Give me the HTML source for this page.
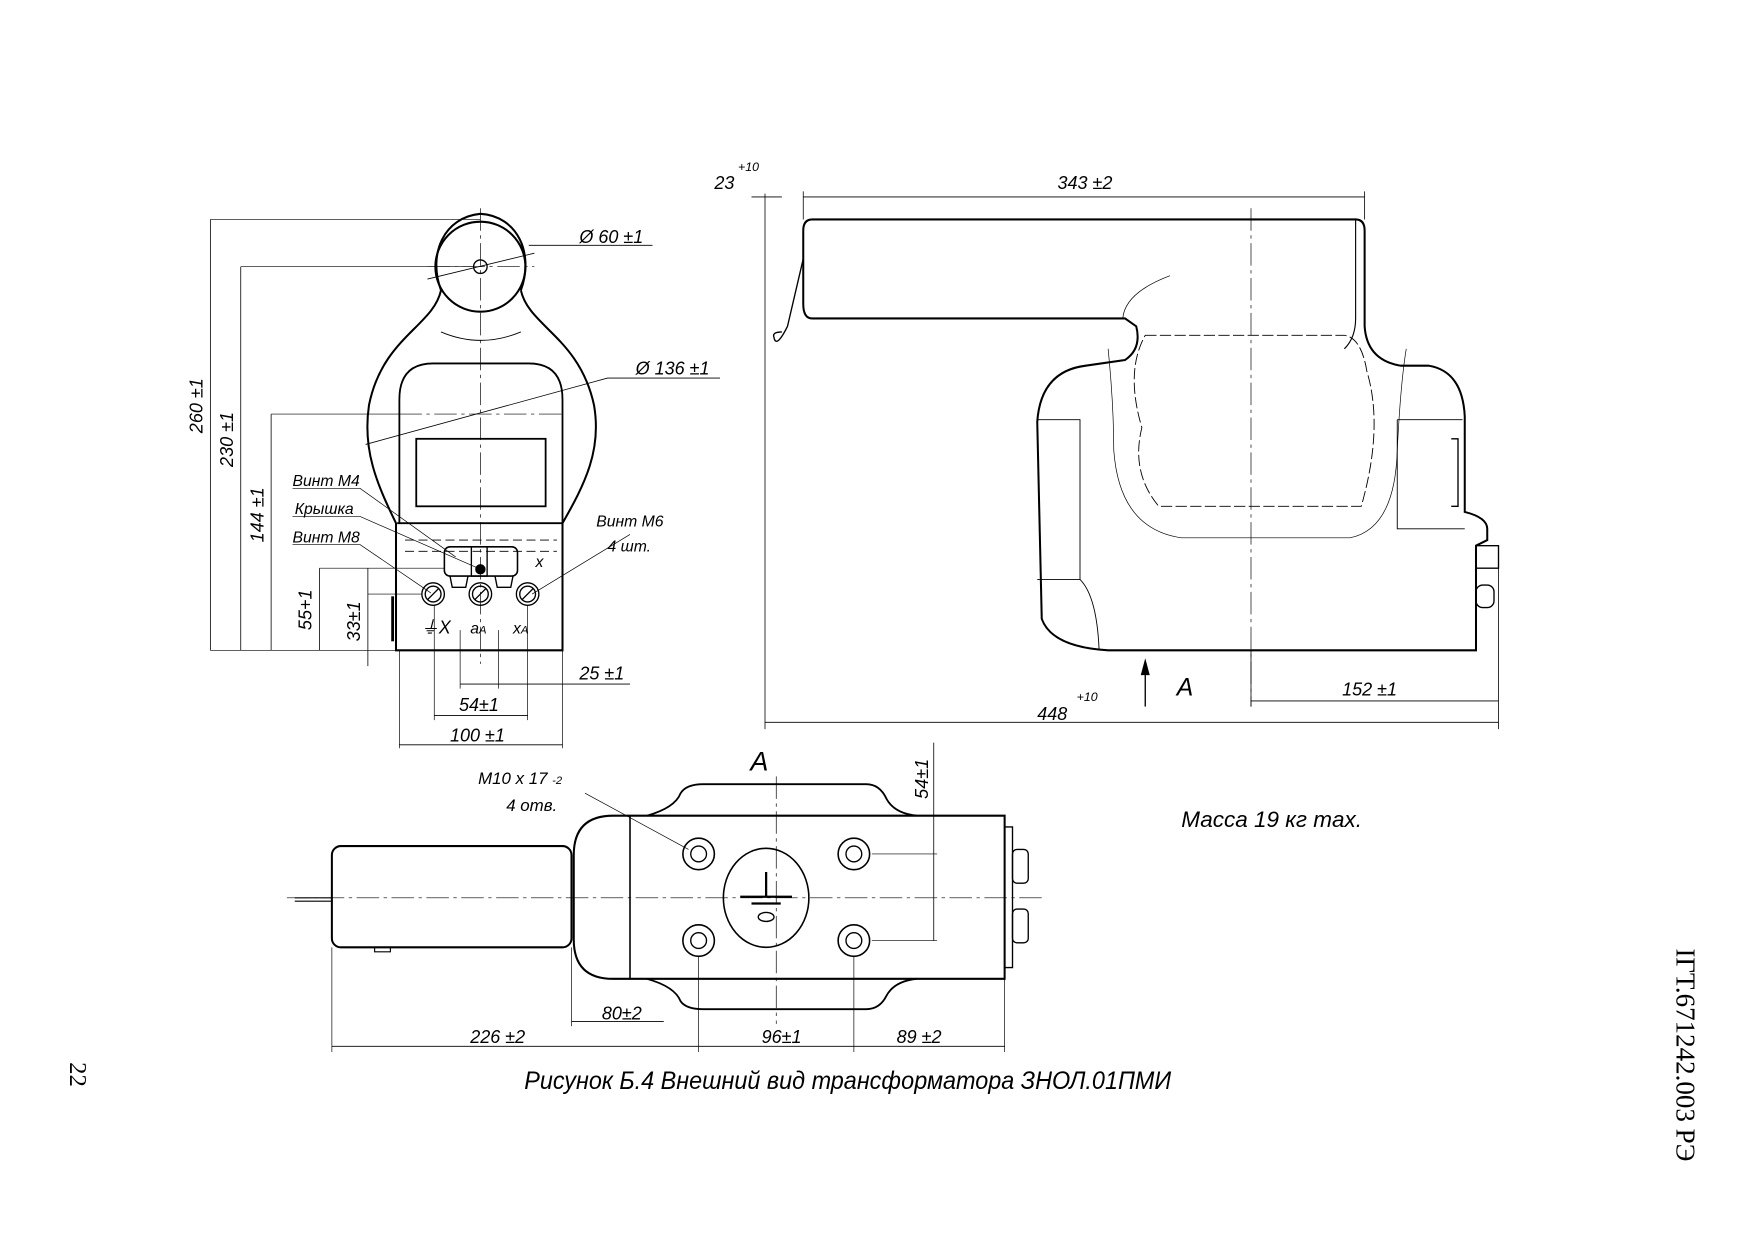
<!DOCTYPE html>
<html><head><meta charset="utf-8"><style>
html,body{margin:0;padding:0;background:#fff;}
svg{display:block}
text{font-family:"Liberation Sans",sans-serif;font-style:italic;fill:#000;}
</style></head><body>
<svg width="1755" height="1241" viewBox="0 0 1560 1103" xmlns="http://www.w3.org/2000/svg">
<g fill="none" stroke="#000" stroke-width="1.2">
<!-- ===== FRONT VIEW ===== -->
<circle cx="427" cy="237" r="40" stroke-width="1.8"/>
<circle cx="427" cy="237" r="6"/>
<path d="M392 258 C385 290 340 300 328 360 C322 400 335 430 352 465 L352 578 L500 578 L500 465 C520 430 535 400 528 360 C515 300 470 290 463 258" stroke-width="1.8"/>
<path d="M392 258 C380 225 395 193 427 190 C460 192 475 225 463 258" stroke-width="1.8"/>
<path d="M355 465 L355 355 Q355 323 385 323 L470 323 Q500 323 500 355 L500 465" stroke-width="1.6"/>
<rect x="370" y="390" width="115" height="60" stroke-width="1.6"/>
<path d="M392 295 Q427 310 463 295" stroke-width="0.8"/>
<path d="M353 465 L500 465" stroke-width="1.6"/>
<path d="M360 480 L495 480 M360 490 L495 490" stroke-dasharray="8 4" stroke-width="0.8"/>
<rect x="395" y="486" width="65" height="26" rx="5" stroke-width="1.4"/>
<rect x="419" y="486" width="14" height="26" stroke-width="1.2"/>
<circle cx="427" cy="506" r="4" fill="#000"/>
<path d="M400 512 L402 522 L414 522 L416 512 M440 512 L442 522 L454 522 L456 512" stroke-width="1.2"/>
<circle cx="385" cy="528" r="10"/><circle cx="385" cy="528" r="7"/>
<circle cx="427" cy="528" r="10"/><circle cx="427" cy="528" r="7"/>
<circle cx="469" cy="528" r="10"/><circle cx="469" cy="528" r="7"/>
<path d="M380 533 L390 523 M422 533 L432 523 M464 533 L474 523"/>
<path d="M349 530 L349 570" stroke-width="2.5"/>
<path d="M427 185 L427 590" stroke-width="0.6" stroke-dasharray="20 4 3 4"/>
<path d="M380 237 L475 237 M355 368 L500 368" stroke-width="0.6" stroke-dasharray="20 4 3 4"/>
<path d="M187 195 L427 195 M214 237 L420 237 M241 368 L355 368 M284 505 L395 505 M327 528 L375 528 M187 578 L352 578" stroke-width="0.6"/>
<path d="M187 195 L187 578 M214 237 L214 578 M241 368 L241 578 M284 505 L284 578 M327 505 L327 592" stroke-width="0.7"/>
<path d="M355 578 L355 665 M500 578 L500 665 M386 538 L386 640 M469 538 L469 640 M409 560 L409 612 M443 560 L443 612" stroke-width="0.6"/>
<path d="M355 662 L500 662 M386 636 L469 636 M409 608 L560 608" stroke-width="0.7"/>
<path d="M470 218 L510 218 L580 218 M380 248 L475 225" stroke-width="0.7"/>
<path d="M325 395 L540 336 L640 336" stroke-width="0.7"/>
<path d="M260 434 L320 434 L405 495 M260 459 L320 459 L425 505 M260 484 L320 484 L383 527 M560 475 L473 528" stroke-width="0.6"/>
<!-- ===== SIDE VIEW ===== -->
<path d="M722 195 L1205 195 Q1213 195 1213 205 L1213 290 Q1215 320 1245 325 L1270 325 Q1300 330 1302 370 L1302 455 Q1322 460 1322 470 L1322 480 L1312 485 L1312 578 L985 578 Q935 575 926 550 L922 375 Q925 330 965 325 L1000 320 Q1015 310 1010 290 L1000 283 L722 283 Q714 283 714 270 L714 205 Q714 195 722 195 Z" stroke-width="1.8"/>
<path d="M1205 195 L1205 283 Q1205 300 1195 310" stroke-width="1"/>
<path d="M922 373 L960 373 L960 515 L922 515 M960 515 Q975 530 977 578" stroke-width="0.8"/>
<path d="M1242 373 L1300 373 M1242 373 L1242 470 L1302 470" stroke-width="0.8"/>
<path d="M1018 298 L1195 298 Q1210 300 1215 330 Q1230 380 1210 450 L1030 450 Q1005 420 1015 380 Q1000 330 1018 298 Z" stroke-width="0.8" stroke-dasharray="10 3"/>
<path d="M985 310 Q990 360 990 400 Q995 470 1050 478 L1200 478 Q1240 470 1242 400 Q1245 340 1250 310" stroke-width="0.6"/>
<path d="M1290 390 L1296 390 L1296 450 L1290 450" stroke-width="1.2"/>
<path d="M998 283 Q1000 260 1040 245" stroke-width="0.7"/>
<path d="M714 230 L700 290 Q690 310 688 300 Q686 295 695 295" stroke-width="1.2"/>
<rect x="1312" y="485" width="20" height="20" stroke-width="1.2"/>
<rect x="1312" y="520" width="16" height="20" rx="6" stroke-width="1.2"/>
<path d="M1112 185 L1112 628" stroke-width="0.6" stroke-dasharray="20 4 3 4"/>
<path d="M680 172 L680 648 M714 170 L714 195 M1213 170 L1213 195 M1332 505 L1332 648 M1112 578 L1112 628" stroke-width="0.7"/>
<path d="M714 175 L1213 175 M668 175 L695 175 M680 642 L1332 642 M1112 623 L1332 623" stroke-width="0.7"/>
<path d="M1018 628 L1018 590" stroke-width="1.2"/>
<polygon points="1018,585 1014,600 1022,600" fill="#000" stroke="none"/>
<!-- ===== BOTTOM VIEW ===== -->
<rect x="295" y="752" width="213" height="90" rx="8" stroke-width="1.8"/>
<path d="M262 798 L295 798 M262 801 L295 801" stroke-width="1"/>
<path d="M333 842 L333 846 L347 846 L347 842" stroke-width="1"/>
<path d="M545 725 L893 725 L893 870 L545 870 Q510 870 510 835 L510 760 Q510 725 545 725 Z" stroke-width="1.8"/>
<path d="M560 725 L560 870" stroke-width="1.4"/>
<path d="M575 725 Q600 718 605 705 Q610 697 625 697 L770 697 Q782 697 788 710 Q795 723 815 725" stroke-width="1.6"/>
<path d="M575 870 Q600 877 605 890 Q610 897 625 897 L770 897 Q782 897 788 885 Q795 872 815 870" stroke-width="1.6"/>
<path d="M893 735 L900 735 L900 860 L893 860" stroke-width="1.2"/>
<rect x="900" y="755" width="14" height="30" rx="4" stroke-width="1.2"/>
<rect x="900" y="808" width="14" height="30" rx="4" stroke-width="1.2"/>
<circle cx="621" cy="759" r="14" stroke-width="1.4"/><circle cx="621" cy="759" r="7"/>
<circle cx="759" cy="759" r="14" stroke-width="1.4"/><circle cx="759" cy="759" r="7"/>
<circle cx="621" cy="836" r="14" stroke-width="1.4"/><circle cx="621" cy="836" r="7"/>
<circle cx="759" cy="836" r="14" stroke-width="1.4"/><circle cx="759" cy="836" r="7"/>
<ellipse cx="681" cy="798" rx="38" ry="44" stroke-width="1.4"/>
<path d="M681 775 L681 797 M658 797 L704 797 M668 803 L694 803" stroke-width="2"/>
<ellipse cx="681" cy="815" rx="7" ry="4"/>
<path d="M255 798 L930 798 M690 690 L690 910" stroke-width="0.6" stroke-dasharray="20 4 3 4"/>
<path d="M520 705 L612 755" stroke-width="0.6"/>
<path d="M295 842 L295 935 M508 842 L508 912 M621 850 L621 935 M759 850 L759 935 M893 870 L893 935 M775 759 L833 759 M775 836 L833 836" stroke-width="0.6"/>
<path d="M295 930 L893 930 M508 908 L590 908 M830 660 L830 836" stroke-width="0.7"/>
</g>
<g font-size="16">
<text x="515" y="216">Ø 60 ±1</text>
<text x="565" y="333">Ø 136 ±1</text>
<text x="180" y="385" transform="rotate(-90 180 385)">260 ±1</text>
<text x="207" y="415" transform="rotate(-90 207 415)">230 ±1</text>
<text x="234" y="482" transform="rotate(-90 234 482)">144 ±1</text>
<text x="277" y="560" transform="rotate(-90 277 560)">55+1</text>
<text x="320" y="570" transform="rotate(-90 320 570)">33±1</text>
<text x="260" y="432" font-size="14">Винт М4</text>
<text x="262" y="457" font-size="14">Крышка</text>
<text x="260" y="482" font-size="14">Винт М8</text>
<text x="530" y="468" font-size="14">Винт М6</text>
<text x="540" y="490" font-size="14">4 шт.</text>
<text x="374" y="563" font-size="16">⏚X</text>
<text x="418" y="563" font-size="14">a<tspan font-size="10">A</tspan></text>
<text x="456" y="563" font-size="14">x<tspan font-size="10">A</tspan></text>
<text x="476" y="504" font-size="14">x</text>
<text x="515" y="604">25 ±1</text>
<text x="408" y="632">54±1</text>
<text x="400" y="659">100 ±1</text>
<text x="635" y="168">23</text><text x="656" y="152" font-size="11">+10</text>
<text x="940" y="168">343 ±2</text>
<text x="922" y="640">448</text><text x="957" y="623" font-size="11">+10</text>
<text x="1046" y="618" font-size="22">A</text>
<text x="1193" y="618">152 ±1</text>
<text x="667" y="685" font-size="24">A</text>
<text x="425" y="697" font-size="15">M10 x 17 <tspan font-size="10">-2</tspan></text>
<text x="450" y="721" font-size="15">4 отв.</text>
<text x="825" y="710" transform="rotate(-90 825 710)">54±1</text>
<text x="1050" y="735" font-size="20">Масса 19 кг max.</text>
<text x="535" y="906">80±2</text>
<text x="418" y="927">226 ±2</text>
<text x="677" y="927">96±1</text>
<text x="797" y="927">89 ±2</text>
<text x="466" y="968" font-size="22" textLength="575" lengthAdjust="spacingAndGlyphs">Рисунок  Б.4 Внешний вид трансформатора ЗНОЛ.01ПМИ</text>
</g>
<text x="62" y="944" font-size="22" style="font-family:'Liberation Serif',serif;font-style:normal" transform="rotate(90 62 944)">22</text>
<text x="1490" y="843" font-size="24" style="font-family:'Liberation Serif',serif;font-style:normal" transform="rotate(90 1490 843)">ІГТ.671242.003 РЭ</text>
</svg>
</body></html>
